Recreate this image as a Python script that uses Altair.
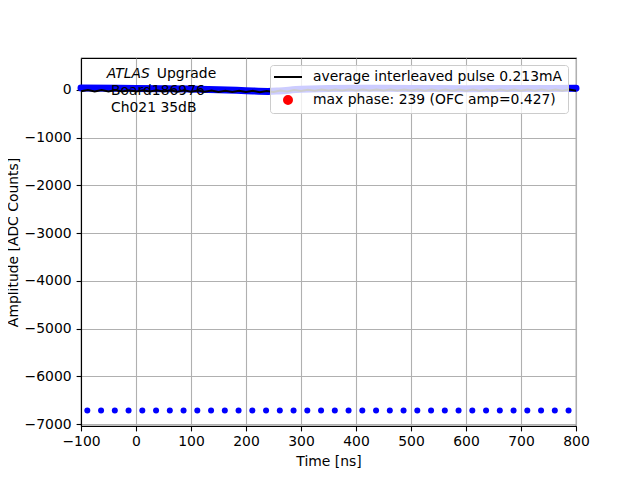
import altair as alt
import pandas as pd

FONT = "DejaVu Sans"

# ---- data ----
x_ticks = [-100, 0, 100, 200, 300, 400, 500, 600, 700, 800]
y_ticks = [-7000, -6000, -5000, -4000, -3000, -2000, -1000, 0]

# individual samples of the failing phase (blue dots near -6700)
dot_t = [-88.5, -63.5, -38.5, -13.5, 11.5, 36.5, 61.5, 86.5, 111.5, 136.5,
         161.5, 186.5, 211.5, 236.5, 261.5, 286.5, 311.5, 336.5, 361.5, 386.5,
         411.5, 436.5, 461.5, 486.5, 511.5, 536.5, 561.5, 586.5, 611.5, 636.5,
         661.5, 686.5, 711.5, 736.5, 761.5, 786.5]
dot_v = [-6715, -6715, -6715, -6715, -6715, -6715, -6715, -6715, -6715, -6715,
         -6715, -6715, -6715, -6715, -6715, -6715, -6715, -6715, -6715, -6715,
         -6715, -6715, -6715, -6715, -6715, -6715, -6715, -6715, -6715, -6715,
         -6715, -6715, -6715, -6715, -6715, -6715]

# dense samples of all other phases (thick blue band near 0)
band_t = [-100, 0, 100, 150, 200, 240, 260, 300, 400, 500, 600, 700, 800]
band_v = [40, 32, 18, 5, -15, -30, -20, 15, 35, 32, 28, 30, 35]

# average interleaved pulse (black, small ripple)
pulse_t = [-100, -87.5, -75, -62.5, -50, -37.5, -25, -12.5, 0, 12.5, 25, 37.5,
           50, 62.5, 75, 87.5, 100, 112.5, 125, 137.5, 150, 162.5, 175, 187.5,
           200, 212.5, 225, 237.5, 250, 262.5, 275, 287.5, 300, 312.5, 325, 337.5,
           350, 362.5, 375, 387.5, 400, 412.5, 425, 437.5, 450, 462.5, 475, 487.5,
           500, 512.5, 525, 537.5, 550, 562.5, 575, 587.5, 600, 612.5, 625, 637.5,
           650, 662.5, 675, 687.5, 700, 712.5, 725, 737.5, 750, 762.5, 775, 787.5, 800]
pulse_v = [-25, 0, -30, -2, -30, -3, -32, -4, -32, -5, -34, -6, -34, -8, -36, -8,
           -36, -10, -38, -12, -40, -14, -42, -16, -44, -18, -46, -20, -40, -12,
           -30, -2, -20, 5, -15, 8, -12, 10, -10, 12, -10, 12, -10, 12, -10, 12,
           -12, 10, -12, 10, -14, 8, -14, 8, -14, 8, -15, 8, -15, 8, -15, 8, -15,
           8, -15, 8, -15, 8, -15, 8, -15, 8, -15]

# max phase marker (legend entry)
max_t = [239]
max_v = [0.427]

series_names = ["average interleaved pulse 0.213mA", "max phase: 239 (OFC amp=0.427)"]
series_colors = ["black", "red"]

ann_text = ["Board186976", "Ch021 35dB"]
ann_t = [-45.5, -45.5]
ann_v = [-21, -371]
atlas_t = [-53]
atlas_v = [329]

# ---- tables ----
dots = pd.DataFrame({"t": dot_t, "v": dot_v})
band = pd.DataFrame({"t": band_t, "v": band_v})
pulse = pd.DataFrame({"t": pulse_t, "v": pulse_v, "series": series_names[0]})
maxp = pd.DataFrame({"t": max_t, "v": max_v, "series": series_names[1]})
ann = pd.DataFrame({"t": ann_t, "v": ann_v, "txt": ann_text})
atlas = pd.DataFrame({"t": atlas_t, "v": atlas_v})

MINUS_EXPR = "datum.value < 0 ? '\u2212' + format(-datum.value, 'd') : format(datum.value, 'd')"


def X():
    return alt.X("t:Q", scale=alt.Scale(domain=[-100, 800], nice=False, zero=False),
                 axis=alt.Axis(values=x_ticks, labelExpr=MINUS_EXPR, labelFlush=False,
                               title="Time [ns]"))


def Y():
    return alt.Y("v:Q", scale=alt.Scale(domain=[-7040, 670], nice=False, zero=False),
                 axis=alt.Axis(values=y_ticks, labelExpr=MINUS_EXPR, labelFlush=False,
                               title="Amplitude [ADC Counts]"))


legend = alt.Legend(title=None, orient="none", legendX=189, legendY=7,
                    padding=5, rowPadding=7, symbolOffset=6, labelOffset=18,
                    labelLimit=500,
                    labelFont=FONT, labelFontSize=13.9, labelColor="black",
                    fillColor="rgba(255,255,255,0.8)", strokeColor="#cccccc",
                    cornerRadius=3, symbolOpacity=1, symbolStrokeWidth=2)

color_enc = alt.Color("series:N", scale=alt.Scale(domain=series_names, range=series_colors),
                      legend=legend)

dots_layer = alt.Chart(dots).mark_circle(color="#0000ff", size=36, opacity=1).encode(x=X(), y=Y())
band_layer = alt.Chart(band).mark_line(color="#0000ff", strokeWidth=7, strokeCap="round",
                                       interpolate="monotone").encode(x=X(), y=Y())
max_layer = alt.Chart(maxp).mark_point(filled=True, opacity=0).encode(
    x=X(), y=Y(), color=color_enc,
    shape=alt.Shape("series:N", scale=alt.Scale(domain=series_names,
                                                range=["M-2.5,0H2.5", "circle"]),
                    legend=legend),
    size=alt.Size("series:N", scale=alt.Scale(type="point", domain=series_names,
                                              range=[125, 64], padding=0),
                  legend=legend),
)
pulse_layer = alt.Chart(pulse).mark_line(strokeWidth=2).encode(x=X(), y=Y(), color=color_enc)

ann_layer = alt.Chart(ann).mark_text(align="left", baseline="middle", font=FONT,
                                     fontSize=13.9, color="black").encode(
    x=X(), y=Y(), text="txt:N")
atlas_layer = alt.Chart(atlas).mark_text(align="left", baseline="middle", font=FONT,
                                         fontSize=13.9, fontStyle="italic",
                                         color="black", text="ATLAS").encode(x=X(), y=Y())
upg_layer = alt.Chart(atlas).mark_text(align="left", baseline="middle", font=FONT,
                                       fontSize=13.9, color="black", text="Upgrade",
                                       dx=50).encode(x=X(), y=Y())

chart = alt.layer(dots_layer, band_layer, max_layer, pulse_layer, ann_layer,
                  atlas_layer, upg_layer).properties(
    width=495, height=368,
    autosize=alt.AutoSizeParams(type="none"),
    padding={"left": 73, "top": 50, "right": 56, "bottom": 46},
).configure_view(stroke="black", strokeWidth=1.1).configure_axis(
    domainColor="black", domainWidth=1.1, tickColor="black", tickWidth=1.1, tickSize=4.9,
    labelFont=FONT, labelFontSize=13.9, labelColor="black", labelPadding=3.5,
    titleFont=FONT, titleFontSize=13.9, titleFontWeight="normal", titleColor="black",
    grid=True, gridColor="#b0b0b0", gridWidth=1.1, gridOpacity=1,
).configure_axisX(titlePadding=6).configure_axisY(titlePadding=4, labelPadding=5)

chart.save("out.html", embed_options={"renderer": "svg", "actions": False})
